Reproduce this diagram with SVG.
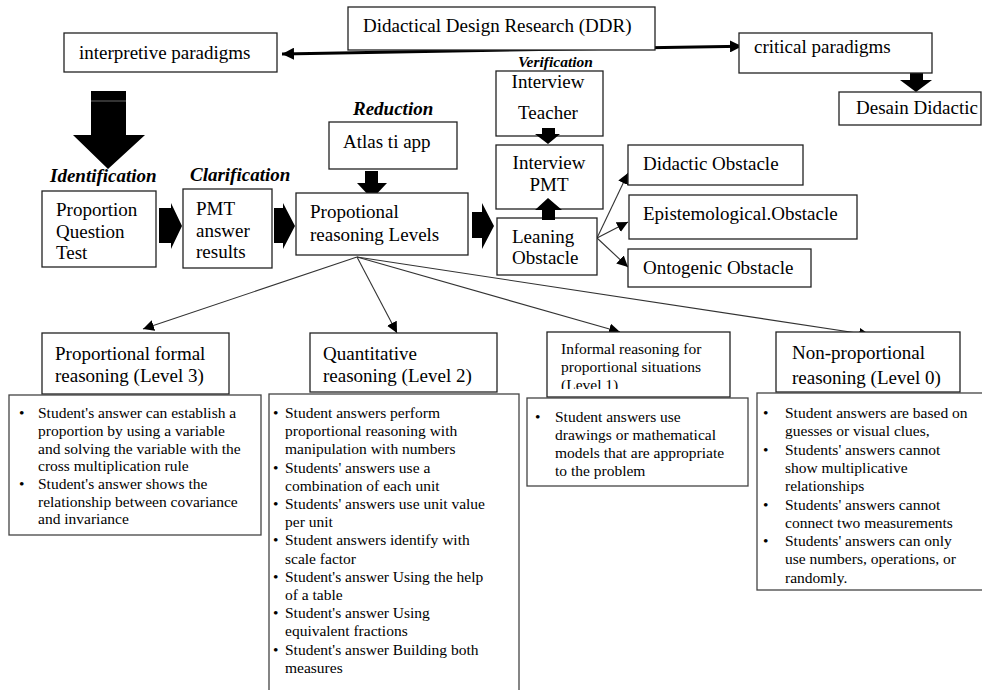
<svg xmlns="http://www.w3.org/2000/svg" width="982" height="690" viewBox="0 0 982 690" font-family="'Liberation Serif', 'DejaVu Serif', serif">
<style>
text{font-family:'Liberation Serif','DejaVu Serif',serif;fill:#000}
.t{font-size:19px}
.s{font-size:15.5px}
.lab{font-size:19px;font-weight:bold;font-style:italic}
.box{fill:#fff;stroke:#222;stroke-width:1.3}
.cbox{fill:#fff;stroke:#444;stroke-width:1.3}
.blk{fill:#000;stroke:none}
.ln{stroke:#333;stroke-width:1.1;fill:none;marker-end:url(#ah)}
</style>
<defs>
<marker id="ah" viewBox="0 0 10 10" refX="10" refY="5" markerWidth="11" markerHeight="11" markerUnits="userSpaceOnUse" orient="auto"><path d="M0,0 L10,5 L0,10 z" fill="#000"/></marker>
<marker id="ahb" viewBox="0 0 10 10" refX="10" refY="5" markerWidth="4" markerHeight="4" orient="auto-start-reverse"><path d="M0,0 L10,5 L0,10 z" fill="#000"/></marker>
<clipPath id="c1"><rect x="547" y="332" width="183" height="57"/></clipPath>
</defs>

<g id="connectors">
<line x1="282" y1="53.9" x2="742" y2="46.2" stroke="#000" stroke-width="3" marker-start="url(#ahb)" marker-end="url(#ahb)"/>
<path class="blk" d="M91,91 H126 V135 H145 L108,169 L73,135 H91 Z"/>
<line x1="91" y1="101" x2="126" y2="101" stroke="#666" stroke-width="1"/>
<path class="blk" d="M910,73 H923 V80 H932 L916,92 L900,80 H910 Z"/>
<path class="blk" d="M159,208 H171 V203 L182,226 L171,249 V243 H159 Z"/>
<path class="blk" d="M274,208 H283 V203 L295,226 L283,249 V243 H274 Z"/>
<path class="blk" d="M472,212 H482 V203 L494,226 L482,249 V238 H472 Z"/>
<path class="blk" d="M365,171 H378 V183 H387 L372,199 L357,183 H365 Z"/>
<line class="ln" x1="357" y1="257" x2="143" y2="329"/>
<line class="ln" x1="357" y1="257" x2="397" y2="333"/>
<line class="ln" x1="357" y1="257" x2="620" y2="332"/>
<line class="ln" x1="357" y1="257" x2="870" y2="335"/>
<line class="ln" x1="597" y1="238" x2="628" y2="173"/>
<line class="ln" x1="597" y1="238" x2="628" y2="222"/>
<line class="ln" x1="597" y1="238" x2="628" y2="267"/>
</g>

<g id="ddr"><rect class="box" x="348" y="7" width="307" height="43"/><text class="t" x="363" y="32">Didactical Design Research (DDR)</text></g>
<g id="interpretive"><rect class="box" x="64" y="33" width="213" height="39"/><text class="t" x="79" y="59">interpretive paradigms</text></g>
<g id="critical"><rect class="box" x="739" y="33" width="193" height="40"/><text class="t" x="754" y="53">critical paradigms</text></g>
<g id="desain"><rect class="box" x="839" y="92" width="142" height="33"/><text class="t" x="856" y="114">Desain Didactic</text></g>

<g id="identification"><text class="lab" x="50" y="182">Identification</text>
<rect class="box" x="42" y="191" width="114" height="76"/>
<text class="t" x="56" y="216">Proportion</text><text class="t" x="56" y="238">Question</text><text class="t" x="56" y="259">Test</text></g>

<g id="clarification"><text class="lab" x="190" y="181">Clarification</text>
<rect class="box" x="183" y="189" width="89" height="79"/>
<text class="t" x="196" y="215">PMT</text><text class="t" x="196" y="237">answer</text><text class="t" x="196" y="258">results</text></g>

<g id="levels"><rect class="box" x="296" y="193" width="172" height="62"/>
<text class="t" x="310" y="218">Propotional</text><text class="t" x="310" y="241">reasoning Levels</text></g>

<g id="reduction"><text class="lab" x="353" y="115">Reduction</text>
<rect class="box" x="329" y="122" width="128" height="47"/><text class="t" x="343" y="148">Atlas ti app</text></g>

<g id="verification"><text class="lab" x="518" y="67" style="font-size:15.5px">Verification</text>
<rect class="box" x="496" y="71" width="107" height="65"/>
<text class="t" x="548" y="88" text-anchor="middle">Interview</text><text class="t" x="548" y="119" text-anchor="middle">Teacher</text></g>

<g id="interview-pmt"><rect class="box" x="496" y="145" width="107" height="64"/>
<text class="t" x="549" y="169" text-anchor="middle">Interview</text><text class="t" x="549" y="191" text-anchor="middle">PMT</text></g>

<g id="leaning"><rect class="box" x="497" y="218" width="100" height="57"/>
<text class="t" x="512" y="243">Leaning</text><text class="t" x="512" y="264">Obstacle</text></g>

<g id="vert-arrows">
<path class="blk" d="M542,128 H555 V134 H560 L548,144 L535,134 H542 Z"/>
<path class="blk" d="M548,198 L562,210 H555 V220 H542 V210 H535 Z"/>
</g>

<g id="didactic"><rect class="box" x="628" y="145" width="175" height="40"/><text class="t" x="643" y="170">Didactic Obstacle</text></g>
<g id="epistemological"><rect class="box" x="629" y="195" width="228" height="44"/><text class="t" x="643" y="220">Epistemological.Obstacle</text></g>
<g id="ontogenic"><rect class="box" x="628" y="249" width="183" height="38"/><text class="t" x="643" y="274">Ontogenic Obstacle</text></g>

<g id="level3">
<rect class="box" x="42" y="333" width="187" height="61"/>
<text class="t" x="55" y="360">Proportional formal</text><text class="t" x="55" y="382">reasoning (Level 3)</text>
<rect class="cbox" x="9" y="395" width="252" height="140"/>
<text class="s" x="19" y="418">•</text><text class="s" x="19" y="489">•</text>
<text class="s" x="38" y="418">Student's answer can establish a</text>
<text class="s" x="38" y="436">proportion by using a variable</text>
<text class="s" x="38" y="454">and solving the variable with the</text>
<text class="s" x="38" y="471">cross multiplication rule</text>
<text class="s" x="38" y="489">Student's answer shows the</text>
<text class="s" x="38" y="507">relationship between covariance</text>
<text class="s" x="38" y="524">and invariance</text>
</g>

<g id="level2">
<rect class="box" x="310" y="333" width="187" height="59"/>
<text class="t" x="323" y="360">Quantitative</text><text class="t" x="323" y="382">reasoning (Level 2)</text>
<rect class="cbox" x="269" y="394" width="250" height="300"/>
<text class="s" x="273" y="418">•</text>
<text class="s" x="273" y="472.6">•</text>
<text class="s" x="273" y="509">•</text>
<text class="s" x="273" y="545.4">•</text>
<text class="s" x="273" y="581.8">•</text>
<text class="s" x="273" y="618.2">•</text>
<text class="s" x="273" y="654.6">•</text>
<text class="s" x="285" y="418">Student answers perform</text>
<text class="s" x="285" y="436.2">proportional reasoning with</text>
<text class="s" x="285" y="454.4">manipulation with numbers</text>
<text class="s" x="285" y="472.6">Students' answers use a</text>
<text class="s" x="285" y="490.8">combination of each unit</text>
<text class="s" x="285" y="509">Students' answers use unit value</text>
<text class="s" x="285" y="527.2">per unit</text>
<text class="s" x="285" y="545.4">Student answers identify with</text>
<text class="s" x="285" y="563.6">scale factor</text>
<text class="s" x="285" y="581.8">Student's answer Using the help</text>
<text class="s" x="285" y="600">of a table</text>
<text class="s" x="285" y="618.2">Student's answer Using</text>
<text class="s" x="285" y="636.4">equivalent fractions</text>
<text class="s" x="285" y="654.6">Student's answer Building both</text>
<text class="s" x="285" y="672.8">measures</text>
</g>

<g id="level1">
<rect class="box" x="547" y="332" width="183" height="65"/>
<g clip-path="url(#c1)">
<text class="s" x="561" y="354">Informal reasoning for</text>
<text class="s" x="561" y="372">proportional situations</text>
<text class="s" x="561" y="390">(Level 1)</text>
</g>
<rect class="cbox" x="527" y="398" width="221" height="88"/>
<text class="s" x="535" y="422">•</text>
<text class="s" x="555" y="422">Student answers use</text>
<text class="s" x="555" y="440">drawings or mathematical</text>
<text class="s" x="555" y="458">models that are appropriate</text>
<text class="s" x="555" y="476">to the problem</text>
</g>

<g id="level0">
<rect class="box" x="776" y="332" width="184" height="60"/>
<text class="t" x="792" y="359">Non-proportional</text><text class="t" x="792" y="384">reasoning (Level 0)</text>
<rect class="cbox" x="757" y="393" width="227" height="197"/>
<text class="s" x="763" y="418">•</text>
<text class="s" x="763" y="454.6">•</text>
<text class="s" x="763" y="509.5">•</text>
<text class="s" x="763" y="546.1">•</text>
<text class="s" x="785" y="418">Student answers are based on</text>
<text class="s" x="785" y="436.3">guesses or visual clues,</text>
<text class="s" x="785" y="454.6">Students' answers cannot</text>
<text class="s" x="785" y="472.9">show multiplicative</text>
<text class="s" x="785" y="491.2">relationships</text>
<text class="s" x="785" y="509.5">Students' answers cannot</text>
<text class="s" x="785" y="527.8">connect two measurements</text>
<text class="s" x="785" y="546.1">Students' answers can only</text>
<text class="s" x="785" y="564.4">use numbers, operations, or</text>
<text class="s" x="785" y="582.7">randomly.</text>
</g>
</svg>
